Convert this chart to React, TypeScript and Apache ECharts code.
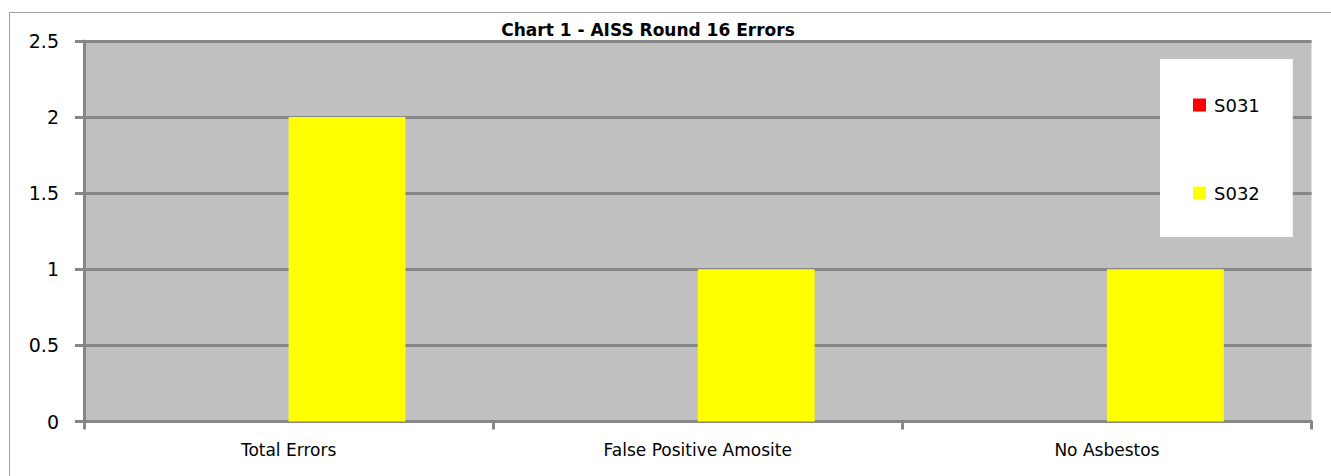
import React, { useEffect, useRef } from "react";
import * as echarts from "echarts";

const categories = ["Total Errors", "False Positive Amosite", "No Asbestos"];
const seriesNames = ["S031", "S032"];
const s031Values = [0, 0, 0];
const s032Values = [2, 1, 1];
const yTicks = [0, 0.5, 1, 1.5, 2, 2.5];

const FONT = "DejaVu Sans";

export default function App() {
  const ref = useRef<HTMLDivElement>(null);
  useEffect(() => {
    document.body.style.margin = "0";
    const chart = echarts.init(ref.current!, null, { renderer: "svg" });
    chart.setOption({
      animation: false,
      backgroundColor: "#ffffff",
      title: {
        text: "Chart 1 - AISS Round 16 Errors",
        left: 648,
        textAlign: "center",
        top: 21,
        padding: 0,
        textStyle: { fontFamily: FONT, fontSize: 17, fontWeight: "bold", color: "#000" },
      },
      graphic: [
        {
          type: "rect",
          shape: { x: 9.5, y: 12.5, width: 1400, height: 500 },
          style: { fill: "none", stroke: "#a0a0a0", lineWidth: 1 },
          silent: true,
          z: -10,
        },
      ],
      grid: {
        left: 84,
        right: 19.5,
        top: 41,
        bottom: 54.5,
        show: true,
        backgroundColor: "#c0c0c0",
        borderWidth: 0,
      },
      legend: {
        orient: "vertical",
        left: 1160,
        top: 59,
        data: seriesNames,
        backgroundColor: "#ffffff",
        padding: [37, 33, 35, 33],
        itemGap: 70,
        itemWidth: 13,
        itemHeight: 13,
        icon: "rect",
        textStyle: { fontFamily: FONT, fontSize: 18, color: "#000", padding: [0, 0, 0, 3] },
      },
      xAxis: {
        type: "category",
        data: categories,
        axisLine: { show: true, lineStyle: { color: "#878787", width: 3 } },
        axisTick: { show: true, length: 8, lineStyle: { color: "#878787", width: 3 } },
        axisLabel: { fontFamily: FONT, fontSize: 17, color: "#000", margin: 20 },
        splitLine: { show: false },
      },
      yAxis: {
        type: "value",
        min: 0,
        max: 2.5,
        interval: 0.5,
        axisLine: { show: true, lineStyle: { color: "#878787", width: 3 } },
        axisTick: { show: true, length: 9, lineStyle: { color: "#878787", width: 3 } },
        axisLabel: {
          fontFamily: FONT,
          fontSize: 19,
          color: "#000",
          margin: 25,
          formatter: (v: number) => (yTicks.includes(v) ? String(v) : ""),
        },
        splitLine: { show: true, lineStyle: { color: "#878787", width: 3 } },
      },
      series: [
        {
          name: seriesNames[0],
          type: "bar",
          data: s031Values,
          itemStyle: { color: "#ff0000" },
          barGap: "0%",
          barCategoryGap: "42.86%",
        },
        {
          name: seriesNames[1],
          type: "bar",
          data: s032Values,
          itemStyle: { color: "#ffff00" },
          barGap: "0%",
          barCategoryGap: "42.86%",
        },
      ],
    });
    return () => chart.dispose();
  }, []);
  return <div ref={ref} style={{ width: 1331, height: 476 }} />;
}
